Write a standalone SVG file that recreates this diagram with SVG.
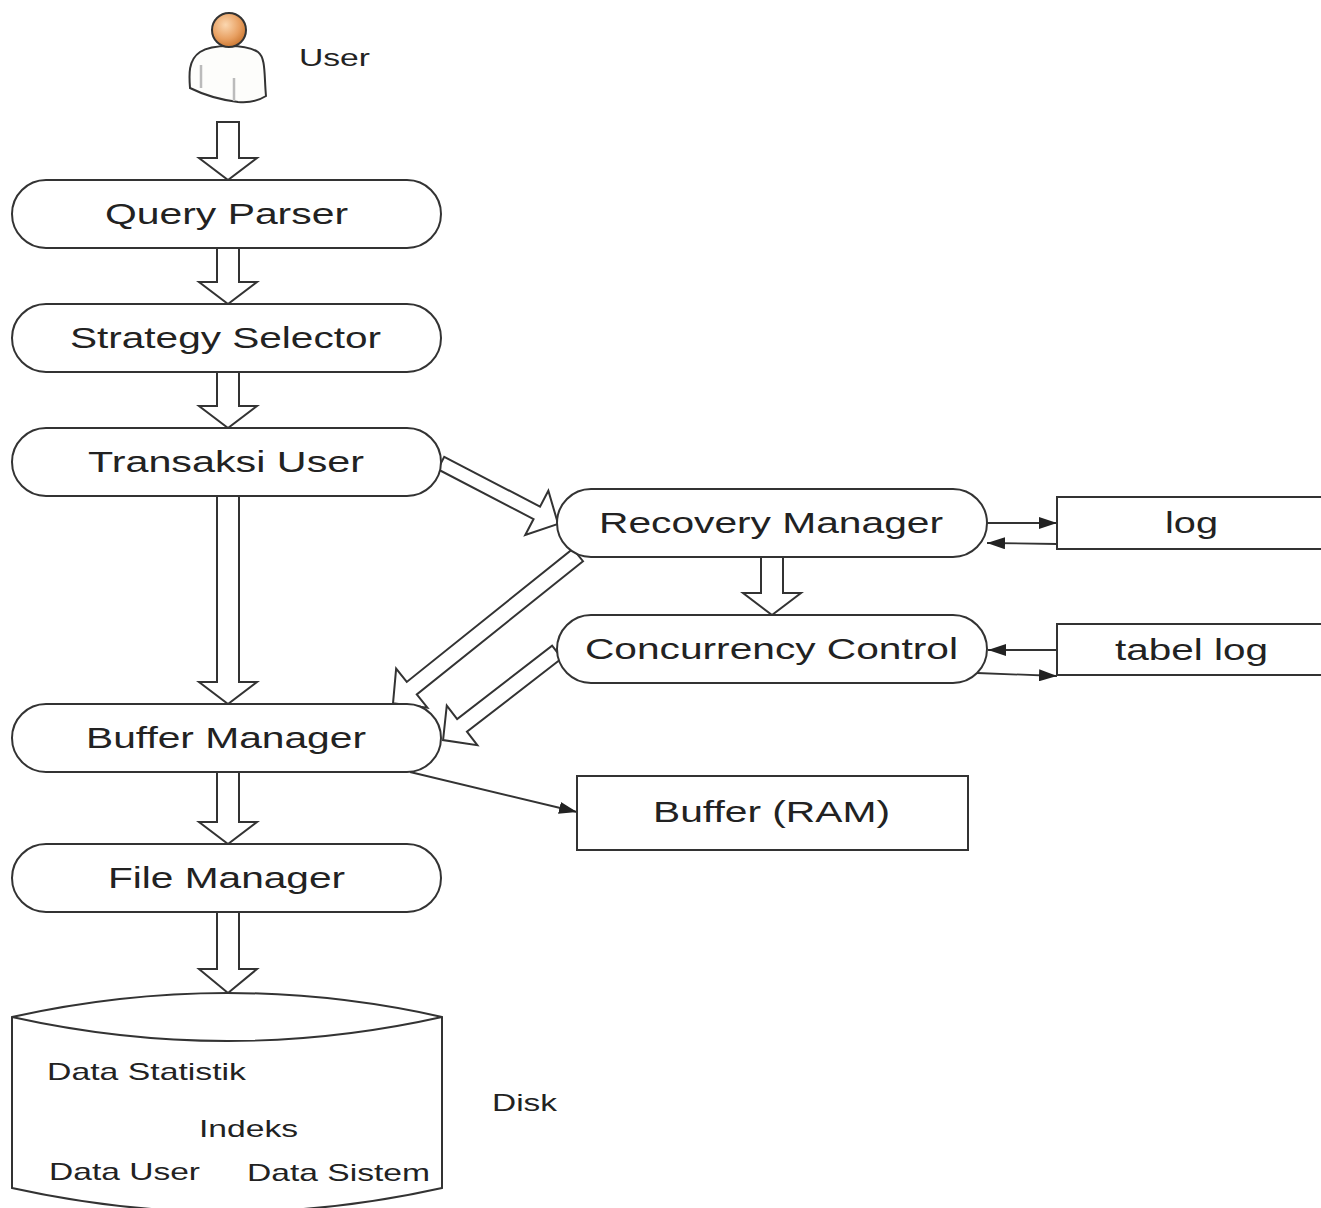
<svg xmlns="http://www.w3.org/2000/svg" width="1321" height="1208" viewBox="0 0 1321 1208">
<style>
.node{fill:#fff;stroke:#333;stroke-width:2}
.blk{fill:#fff;stroke:#333;stroke-width:2;stroke-linejoin:miter}
.ln{fill:none;stroke:#333;stroke-width:1.8}
.t{font-family:"Liberation Sans",Arial,sans-serif;font-size:29px;fill:#222}
.s{font-family:"Liberation Sans",Arial,sans-serif;font-size:24px;fill:#222}
</style>
<defs>
<marker id="ah" markerUnits="userSpaceOnUse" markerWidth="18" markerHeight="12" refX="18" refY="6" orient="auto">
<path d="M0,0 L18,6 L0,12 z" fill="#222"/>
</marker>
<radialGradient id="headg" cx="0.4" cy="0.35" r="0.7">
<stop offset="0" stop-color="#fbd7b0"/>
<stop offset="0.6" stop-color="#e8a062"/>
<stop offset="1" stop-color="#c8732c"/>
</radialGradient>
</defs>

<g id="user">
<path d="M200,52 C212,44 246,44 258,52 C266,58 264,75 266,96 C258,101 248,103 238,102 C222,100 204,95 190,88 C189,75 188,60 200,52 z" fill="#fdfdfb" stroke="#333" stroke-width="2"/>
<line x1="201" y1="65" x2="201" y2="88" stroke="#bbb" stroke-width="2.5"/>
<line x1="234" y1="78" x2="234" y2="101" stroke="#bbb" stroke-width="2.5"/>
<circle cx="229" cy="30" r="17" fill="url(#headg)" stroke="#333" stroke-width="2"/>
<text class="s" x="299" y="66" textLength="71" lengthAdjust="spacingAndGlyphs">User</text>
</g>

<g id="connectors">
<polygon class="blk" points="217,122 239,122 239,158 257,158 228,180 199,158 217,158"/>
<polygon class="blk" points="217,248 239,248 239,282 257,282 228,304 199,282 217,282"/>
<polygon class="blk" points="217,372 239,372 239,406 257,406 228,428 199,406 217,406"/>
<polygon class="blk" points="217,496 239,496 239,682 257,682 228,704 199,682 217,682"/>
<polygon class="blk" points="217,772 239,772 239,822 257,822 228,844 199,822 217,822"/>
<polygon class="blk" points="217,912 239,912 239,969 257,969 228,993 199,969 217,969"/>
<polygon class="blk" points="761,557 783,557 783,593 801,593 772,615 743,593 761,593"/>
<polygon class="blk" transform="translate(441,463) rotate(27.5)" points="0,-7 108,-7 108,-25 132,0 108,25 108,7 0,7"/>
<polygon class="blk" transform="translate(578,555) rotate(141.3)" points="0,-8 213,-8 213,-25 237,0 213,25 213,8 0,8"/>
<polygon class="blk" transform="translate(557,652) rotate(142.3)" points="0,-8 120,-8 120,-25 144,0 120,25 120,8 0,8"/>
<line class="ln" x1="987" y1="523" x2="1057" y2="523" marker-end="url(#ah)"/>
<line class="ln" x1="1057" y1="544" x2="987" y2="543" marker-end="url(#ah)"/>
<line class="ln" x1="1057" y1="650" x2="988" y2="650" marker-end="url(#ah)"/>
<line class="ln" x1="977" y1="673" x2="1057" y2="676" marker-end="url(#ah)"/>
<line class="ln" x1="410" y1="772" x2="577" y2="812" marker-end="url(#ah)"/>
</g>

<g id="query-parser">
<rect class="node" x="12" y="180" width="429" height="68" rx="34" ry="34"/>
<text class="t" x="105" y="224" textLength="243" lengthAdjust="spacingAndGlyphs">Query Parser</text>
</g>
<g id="strategy-selector">
<rect class="node" x="12" y="304" width="429" height="68" rx="34" ry="34"/>
<text class="t" x="70" y="348" textLength="311" lengthAdjust="spacingAndGlyphs">Strategy Selector</text>
</g>
<g id="transaksi-user">
<rect class="node" x="12" y="428" width="429" height="68" rx="34" ry="34"/>
<text class="t" x="88" y="472" textLength="276" lengthAdjust="spacingAndGlyphs">Transaksi User</text>
</g>
<g id="buffer-manager">
<rect class="node" x="12" y="704" width="429" height="68" rx="34" ry="34"/>
<text class="t" x="86" y="748" textLength="280" lengthAdjust="spacingAndGlyphs">Buffer Manager</text>
</g>
<g id="file-manager">
<rect class="node" x="12" y="844" width="429" height="68" rx="34" ry="34"/>
<text class="t" x="108" y="888" textLength="237" lengthAdjust="spacingAndGlyphs">File Manager</text>
</g>
<g id="recovery-manager">
<rect class="node" x="557" y="489" width="430" height="68" rx="34" ry="34"/>
<text class="t" x="599" y="533" textLength="344" lengthAdjust="spacingAndGlyphs">Recovery Manager</text>
</g>
<g id="concurrency-control">
<rect class="node" x="557" y="615" width="430" height="68" rx="34" ry="34"/>
<text class="t" x="585" y="659" textLength="373" lengthAdjust="spacingAndGlyphs">Concurrency Control</text>
</g>
<g id="log">
<rect class="node" x="1057" y="497" width="280" height="52"/>
<text class="t" x="1165" y="533" textLength="53" lengthAdjust="spacingAndGlyphs">log</text>
</g>
<g id="tabel-log">
<rect class="node" x="1057" y="624" width="280" height="51"/>
<text class="t" x="1115" y="660" textLength="153" lengthAdjust="spacingAndGlyphs">tabel log</text>
</g>
<g id="buffer-ram">
<rect class="node" x="577" y="776" width="391" height="74"/>
<text class="t" x="653" y="822" textLength="237" lengthAdjust="spacingAndGlyphs">Buffer (RAM)</text>
</g>
<g id="disk">
<path class="node" d="M12,1017 Q228,969 442,1017 L442,1188 Q228,1236 12,1188 Z"/>
<path class="ln" d="M12,1017 Q228,1065 442,1017" stroke-width="2"/>
<text class="s" x="47" y="1080" textLength="199" lengthAdjust="spacingAndGlyphs">Data Statistik</text>
<text class="s" x="199" y="1137" textLength="99" lengthAdjust="spacingAndGlyphs">Indeks</text>
<text class="s" x="49" y="1180" textLength="151" lengthAdjust="spacingAndGlyphs">Data User</text>
<text class="s" x="247" y="1181" textLength="183" lengthAdjust="spacingAndGlyphs">Data Sistem</text>
<text class="s" x="492" y="1111" textLength="65" lengthAdjust="spacingAndGlyphs">Disk</text>
</g>
</svg>
